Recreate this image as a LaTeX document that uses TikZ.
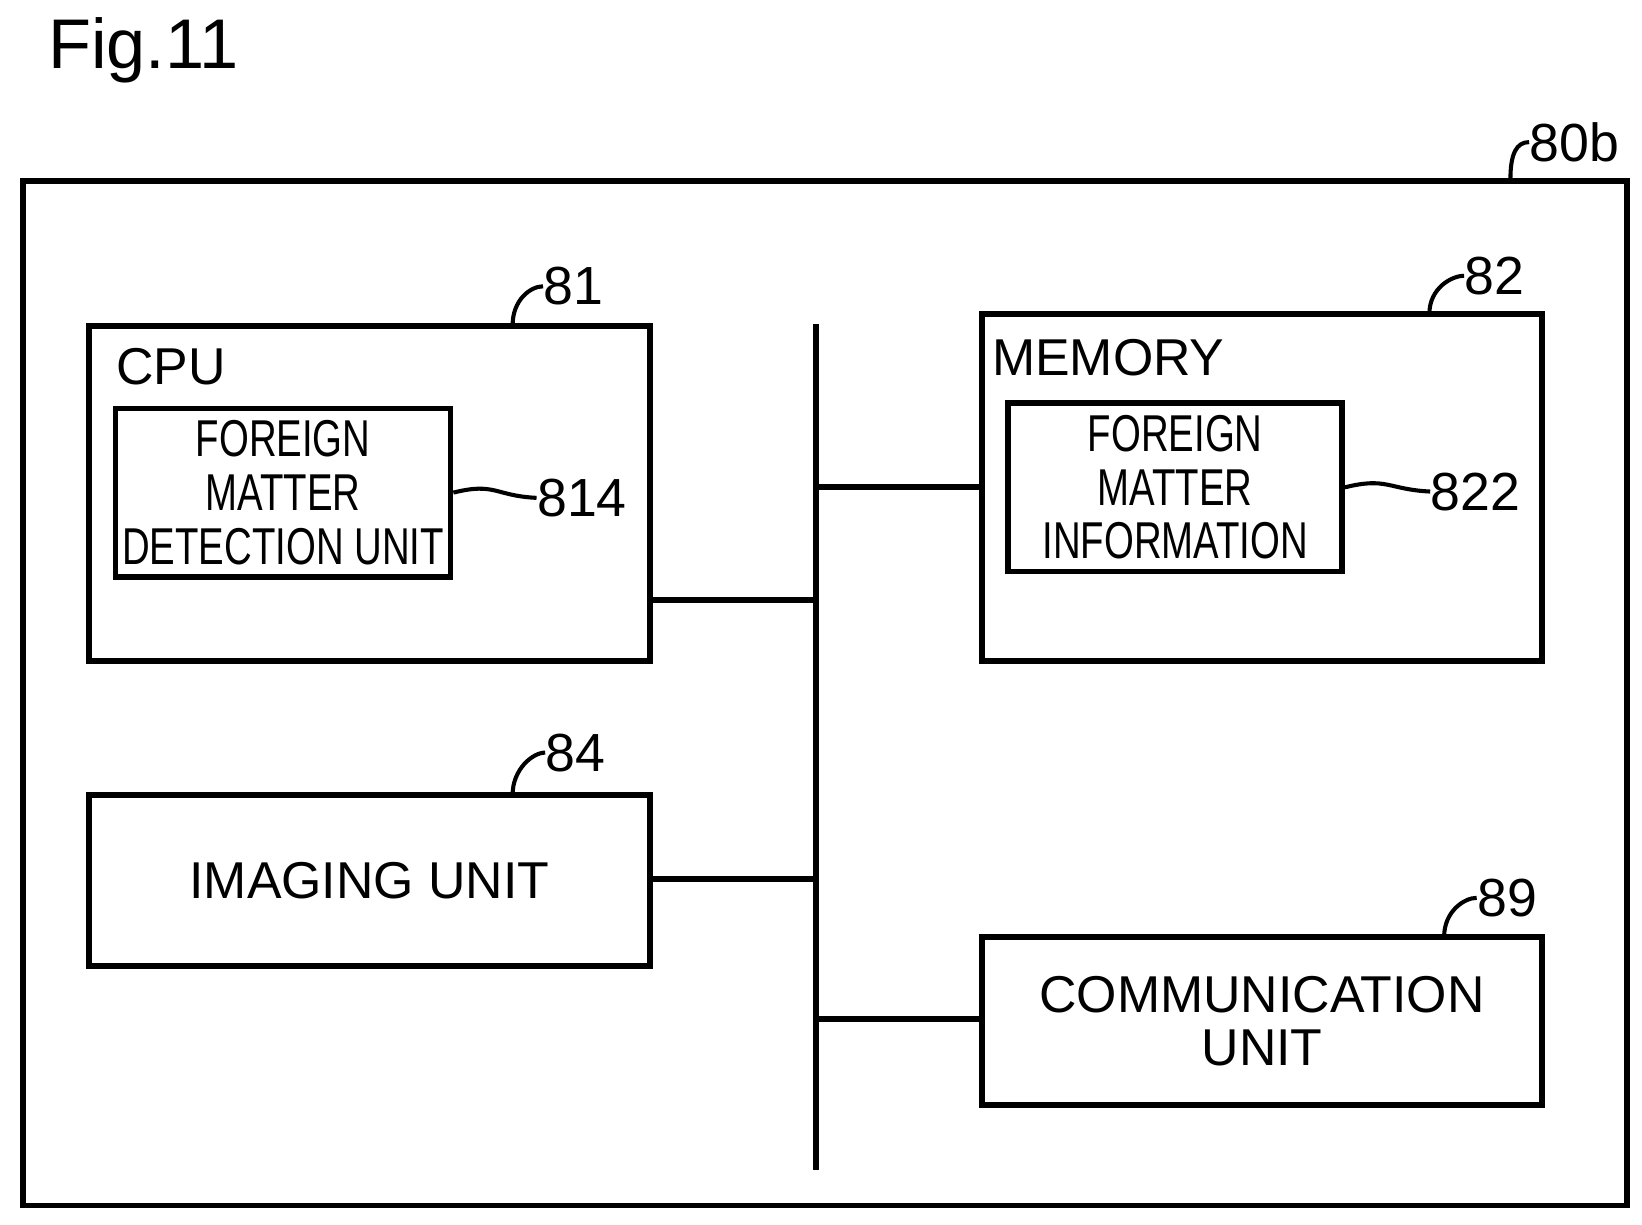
\documentclass[tikz,border=0pt]{standalone}
\usepackage{fontspec}
\setmainfont{Liberation Sans}
\newfontfamily\narrowfont[FakeStretch=0.74]{Liberation Sans}
\usetikzlibrary{positioning}
\tikzset{
  blk/.style={draw,line width=1.6pt,inner sep=0pt},
  sub/.style={draw,line width=1.5pt,inner sep=0pt,align=center,font=\narrowfont\fontsize{14}{14.5}\selectfont},
  wire/.style={line width=1.6pt},
  num/.style={font=\fontsize{14.5}{17}\selectfont,inner sep=0pt},
  lbl/.style={font=\fontsize{14}{14.5}\selectfont,inner sep=0pt}
}
\newcommand{\hookto}[2]{\draw[line width=1.1pt] (#1) .. controls +(0,-24) and +(-12,0) .. (#2);}
\begin{document}
\begin{tikzpicture}[x=0.01cm,y=-0.01cm]
\useasboundingbox (0,0) rectangle (1560,1163);
\node[font=\fontsize{19}{22}\selectfont,anchor=west,inner sep=0pt] (fig) at (45,48) {Fig.11};
\node[blk,minimum width=15.23cm,minimum height=9.73cm] (outer) at (783.5,658.5) {};
\node[num] (n80b) at (1496,135) {80b};
\coordinate (h80b) at (1435,170);
\hookto{h80b}{n80b.west}
% blocks
\node[blk,minimum width=5.32cm,minimum height=3.18cm] (cpu) at (351,469) {};
\node[lbl,anchor=west] (cputxt) at (110,348) {CPU};
\node[sub,minimum width=3.18cm,minimum height=1.6cm] (fmd) at (269,468) {FOREIGN\\MATTER\\DETECTION UNIT};
\node[blk,minimum width=5.32cm,minimum height=3.3cm] (mem) at (1199,463) {};
\node[lbl,anchor=west] (memtxt) at (942,340) {MEMORY};
\node[sub,minimum width=3.17cm,minimum height=1.6cm] (fmi) at (1116.5,463) {FOREIGN\\MATTER\\INFORMATION};
\node[blk,minimum width=5.32cm,minimum height=1.63cm,lbl] (img) at (351,836.5) {IMAGING UNIT};
\node[blk,minimum width=5.32cm,minimum height=1.6cm,lbl,align=center] (com) at (1199,970) {COMMUNICATION\\UNIT};
% reference numerals
\node[num] (n81) at (545,272) {81};
\node[num] (n82) at (1420,262) {82};
\node[num] (n84) at (547,715) {84};
\node[num] (n89) at (1432,853) {89};
\node[num] (n814) at (553,473) {814};
\node[num] (n822) at (1402,467) {822};
\coordinate (h81) at (487,309);
\coordinate (h82) at (1358,298);
\coordinate (h84) at (487,755);
\coordinate (h89) at (1372,890);
\hookto{h81}{n81.west}
\hookto{h82}{n82.west}
\hookto{h84}{n84.west}
\hookto{h89}{n89.west}
\draw[line width=1.1pt] (fmd.east) .. controls +(40,-10) and +(-40,-2) .. (n814.west);
\draw[line width=1.1pt] (fmi.east) .. controls +(40,-10) and +(-40,-2) .. (n822.west);
% bus
\coordinate (bustop) at (775,308);
\coordinate (busbot) at (775,1112);
\draw[wire] (bustop) -- (busbot);
\coordinate (bcpu) at (775,570);
\coordinate (bmem) at (775,463);
\coordinate (bimg) at (775,835);
\coordinate (bcom) at (775,968);
\draw[wire] (cpu.east |- bcpu) -- (bcpu);
\draw[wire] (bmem) -- (mem.west |- bmem);
\draw[wire] (img.east |- bimg) -- (bimg);
\draw[wire] (bcom) -- (com.west |- bcom);
\end{tikzpicture}
\end{document}
